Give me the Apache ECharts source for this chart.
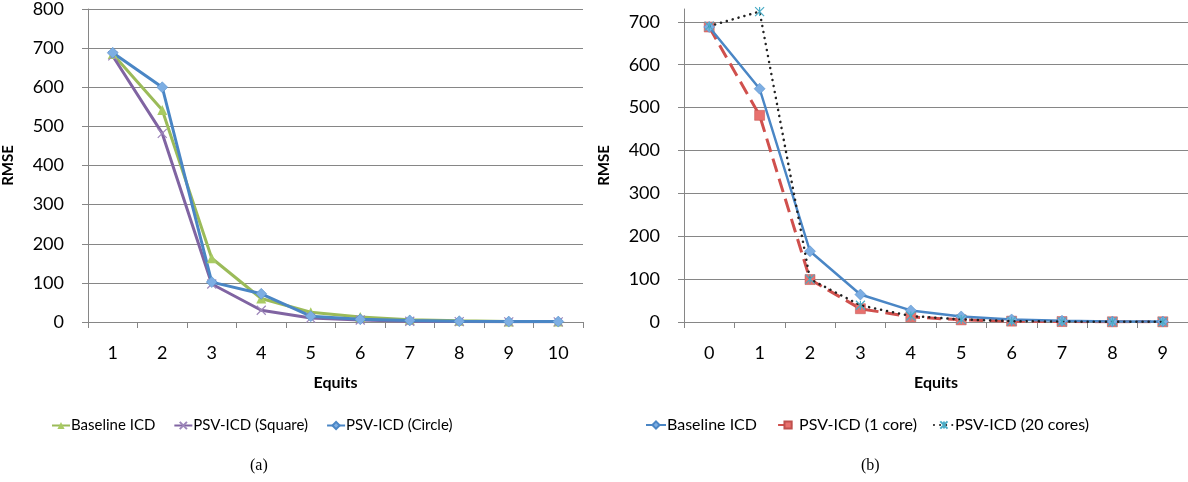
<!DOCTYPE html>
<html>
<head>
<meta charset="utf-8">
<script src="https://cdn.jsdelivr.net/npm/echarts@6/dist/echarts.min.js"></script>
<style>
  html, body { margin: 0; padding: 0; background: #fff; }
  #chart { width: 1188px; height: 482px; }
</style>
</head>
<body>
<div id="chart"></div>
<script>
// (a) 左图数据
var equitsA = ["1", "2", "3", "4", "5", "6", "7", "8", "9", "10"];
var baselineA = [685, 542, 163, 60, 25, 13, 6, 3, 1, 1];
var squareA = [680, 482, 97, 30, 10, 5, 2, 1, 0.5, 0.5];
var circleA = [688, 600, 102, 72, 15, 7, 4, 2, 1, 1];

// (b) 右图数据
var equitsB = ["0", "1", "2", "3", "4", "5", "6", "7", "8", "9"];
var baselineB = [688, 544, 165, 64, 27, 13, 6, 3, 1, 1];
var core1B = [688, 482, 99, 31, 12, 5, 2, 1, 0.5, 0.5];
var core20B = [690, 724, 100, 39, 14, 6, 2, 1, 0.5, 0.5];

var FONT = "Lato";
var crossPath = "path://M0,0 L10,10 M10,0 L0,10";
var starPath = "path://M0,0 L10,10 M10,0 L0,10 M5,0 L5,10";

(function () {
  var myChart = echarts.init(document.getElementById("chart"));

  function xAxis(idx, data) {
    return {
      type: "category",
      gridIndex: idx,
      data: data,
      boundaryGap: true,
      name: "Equits",
      nameLocation: "middle",
      nameGap: 53,
      nameTextStyle: { fontFamily: FONT, fontWeight: "bold", fontSize: 16, color: "#000" },
      axisLine: { lineStyle: { color: "#868686", width: 1 } },
      axisTick: { show: true, length: 6, lineStyle: { color: "#868686" } },
      axisLabel: { fontFamily: FONT, fontSize: 18, color: "#000", margin: 22 }
    };
  }

  function yAxis(idx, max) {
    return {
      type: "value",
      gridIndex: idx,
      min: 0,
      max: max,
      interval: 100,
      name: "RMSE",
      nameLocation: "middle",
      nameGap: 72,
      nameTextStyle: { fontFamily: FONT, fontWeight: "bold", fontSize: 15, color: "#000" },
      axisLine: { show: true, lineStyle: { color: "#868686", width: 1 } },
      axisTick: { show: true, length: 6, lineStyle: { color: "#868686" } },
      axisLabel: { fontFamily: FONT, fontSize: 18, color: "#000", margin: 24, showMaxLabel: max === 800 },
      splitLine: { show: true, showMaxLine: max === 800, lineStyle: { color: "#868686", width: 1 } }
    };
  }

  var option = {
    backgroundColor: "#fff",
    animation: false,
    grid: [
      { left: 86, top: 8, width: 497, height: 314 },
      { left: 684, top: 9, width: 504, height: 313 }
    ],
    xAxis: [xAxis(0, equitsA), xAxis(1, equitsB)],
    yAxis: [yAxis(0, 800), yAxis(1, 730)],
    legend: [
      {
        left: 46, top: 413, itemWidth: 18, itemHeight: 9, itemGap: 18,
        textStyle: { fontFamily: FONT, fontSize: 15, color: "#000", padding: [0, 0, 0, -4] },
        data: ["Baseline ICD", "PSV-ICD (Square)", "PSV-ICD (Circle)"]
      },
      {
        left: 640, top: 412, itemWidth: 20, itemHeight: 9, itemGap: 16,
        textStyle: { fontFamily: FONT, fontSize: 16, color: "#000", padding: [0, 0, 0, -4] },
        data: ["Baseline ICD ", "PSV-ICD (1 core)", "PSV-ICD (20 cores)"]
      }
    ],
    title: [
      { text: "(a)", left: 245, top: 453, textStyle: { fontFamily: "Liberation Serif", fontSize: 16, fontWeight: "normal", color: "#000" } },
      { text: "(b)", left: 856, top: 453, textStyle: { fontFamily: "Liberation Serif", fontSize: 16, fontWeight: "normal", color: "#000" } }
    ],
    series: [
      {
        name: "Baseline ICD", type: "line", xAxisIndex: 0, yAxisIndex: 0,
        data: baselineA, symbol: "triangle", symbolSize: 10,
        lineStyle: { color: "#9BBB59", width: 3 },
        itemStyle: { color: "#A9CB63" }
      },
      {
        name: "PSV-ICD (Square)", type: "line", xAxisIndex: 0, yAxisIndex: 0,
        data: squareA, symbol: crossPath, symbolSize: 9,
        lineStyle: { color: "#8064A2", width: 3 },
        itemStyle: { color: "#8064A2", borderColor: "#9D86BA", borderWidth: 1.2 }
      },
      {
        name: "PSV-ICD (Circle)", type: "line", xAxisIndex: 0, yAxisIndex: 0,
        data: circleA, symbol: "diamond", symbolSize: 11,
        lineStyle: { color: "#4A86C5", width: 3 },
        itemStyle: { color: "#7DAEE3", borderColor: "#4A86C5", borderWidth: 0.5 }
      },
      {
        name: "Baseline ICD ", type: "line", xAxisIndex: 1, yAxisIndex: 1,
        data: baselineB, symbol: "diamond", symbolSize: 11, z: 3,
        lineStyle: { color: "#4A86C5", width: 2.5 },
        itemStyle: { color: "#7DAEE3", borderColor: "#4A86C5", borderWidth: 0.5 }
      },
      {
        name: "PSV-ICD (1 core)", type: "line", xAxisIndex: 1, yAxisIndex: 1,
        data: core1B, symbol: "rect", symbolSize: 10, z: 2,
        lineStyle: { color: "#D0504D", width: 3, type: [14, 7] },
        itemStyle: { color: "#E8716E", borderColor: "#C0504D", borderWidth: 0.5 }
      },
      {
        name: "PSV-ICD (20 cores)", type: "line", xAxisIndex: 1, yAxisIndex: 1,
        data: core20B, symbol: starPath, symbolSize: 9, z: 4,
        lineStyle: { color: "#222", width: 2.5, type: [0.1, 6], cap: "round" },
        itemStyle: { color: "#4BACC6", borderColor: "#4BACC6", borderWidth: 1.2 }
      }
    ]
  };

  myChart.setOption(option);
  window.addEventListener("resize", function () {
    myChart.resize();
  });
})();
</script>
</body>
</html>
